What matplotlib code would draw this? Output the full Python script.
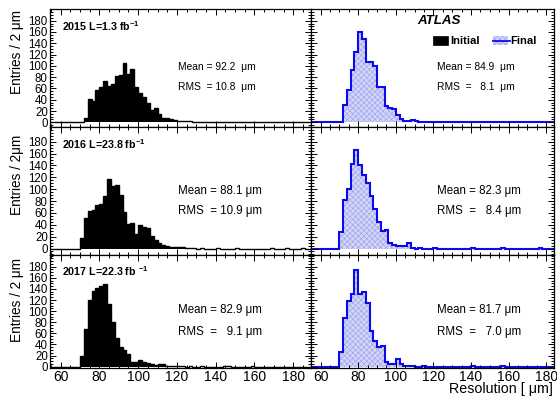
import numpy as np
import matplotlib
matplotlib.use('Agg')
import matplotlib.pyplot as plt
from matplotlib.patches import Rectangle
from matplotlib.lines import Line2D
from matplotlib.ticker import MultipleLocator

plt.rcParams['font.family'] = ['Liberation Sans', 'DejaVu Sans']
plt.rcParams['mathtext.fontset'] = 'custom'
plt.rcParams['mathtext.rm'] = 'Liberation Sans'
plt.rcParams['mathtext.bf'] = 'Liberation Sans:bold'
plt.rcParams['mathtext.it'] = 'Liberation Sans:italic'
plt.rcParams['hatch.linewidth'] = 0.3

# ---------------- data ----------------
BIN_WIDTH = 2
AXIS_EDGE = 54          # first histogram edge (axis start)
COUNTS_START = 60       # edge of first entry in the count lists
LAST_EDGE = 192

years = ['2015', '2016', '2017']
lumi_labels = ['2015 L=1.3 fb$^{\\mathbf{-1}}$',
               '2016 L=23.8 fb$^{\\mathbf{-1}}$',
               '2017 L=22.3 fb $^{\\mathbf{-1}}$']

# Initial (black) histograms, counts per 2 um bin from 60 um
initial_2015 = [0, 0, 0, 0, 0, 0, 8, 42, 38, 58, 63, 74, 65, 67, 82, 84, 105, 86, 95, 62,
                52, 44, 35, 22, 26, 15, 8, 7, 5, 4, 3, 3, 2, 2, 1, 1, 1, 0, 1, 0,
                0, 0, 0, 1, 0, 1, 0, 0, 1, 0, 0, 0, 1]
initial_2016 = [0, 0, 0, 0, 0, 17, 51, 64, 65, 73, 75, 89, 117, 106, 107, 91, 61, 41, 43, 25,
                39, 37, 34, 21, 14, 9, 6, 5, 3, 3, 2, 2, 1, 1, 1, 0, 1, 0, 0, 0,
                1, 0, 0, 0, 0, 1, 0, 0, 0, 0, 0, 0, 0, 0, 1, 0, 0, 0, 1, 0, 0, 0, 1]
initial_2017 = [0, 0, 0, 0, 0, 19, 67, 120, 136, 141, 146, 148, 113, 80, 51, 36, 30, 22, 9, 8,
                12, 8, 7, 4, 3, 4, 4, 2, 1, 2, 1, 1, 0, 1, 0, 0, 1, 0, 0, 0,
                0, 0, 1, 1, 0, 0, 0, 0, 0, 1]

# Final (blue) histograms, counts per 2 um bin from 60 um
final_2015 = [0, 0, 0, 1, 0, 0, 30, 58, 93, 125, 160, 147, 106, 106, 100, 62, 62, 28, 25, 24,
              13, 6, 2, 2, 4, 2, 1, 1, 0, 1, 0, 0, 0, 1, 0, 0, 0, 0, 0, 0,
              1, 0, 0, 0, 0, 1, 0, 0, 0, 0, 1]
final_2016 = [0, 0, 0, 0, 0, 28, 82, 100, 143, 166, 141, 124, 110, 88, 66, 44, 30, 32, 10, 6,
              4, 5, 5, 10, 1, 0, 1, 0, 0, 0, 1, 0, 0, 0, 0, 0, 0, 0, 0, 0,
              1, 0, 0, 0, 0, 0, 0, 0, 1, 0, 0, 0, 0, 0, 0, 0, 0, 0, 1]
final_2017 = [0, 0, 0, 0, 0, 26, 88, 119, 130, 174, 130, 134, 115, 65, 47, 35, 38, 9, 4, 4,
              13, 5, 2, 1, 1, 0, 0, 1, 0, 0, 0, 0, 0, 0, 0, 0, 0, 0, 0, 0,
              1, 0, 0, 0, 0, 0, 0, 0, 1]

initial_series = [initial_2015, initial_2016, initial_2017]
final_series = [final_2015, final_2016, final_2017]

initial_stats = [('Mean = 92.2  \u03bcm', 'RMS  = 10.8  \u03bcm'),
                 ('Mean = 88.1 \u03bcm', 'RMS  = 10.9 \u03bcm'),
                 ('Mean = 82.9 \u03bcm', 'RMS  =   9.1 \u03bcm')]
final_stats = [('Mean = 84.9  \u03bcm', 'RMS  =   8.1  \u03bcm'),
               ('Mean = 82.3 \u03bcm', 'RMS  =   8.4 \u03bcm'),
               ('Mean = 81.7 \u03bcm', 'RMS  =   7.0 \u03bcm')]
ylabels = ['Entries / 2 \u03bcm', 'Entries / 2\u03bcm', 'Entries / 2 \u03bcm']
xlabel = 'Resolution [ \u03bcm]'
y_ticks = [0, 20, 40, 60, 80, 100, 120, 140, 160, 180]
x_ticks = [60, 80, 100, 120, 140, 160, 180]

edges = np.arange(AXIS_EDGE, LAST_EDGE + 1, BIN_WIDTH)
nbins = len(edges) - 1


def full_counts(lst):
    arr = np.zeros(nbins)
    start = (COUNTS_START - AXIS_EDGE) // BIN_WIDTH
    vals = np.asarray(lst, dtype=float)[: nbins - start]
    arr[start:start + len(vals)] = vals
    return arr


# ---------------- layout (pixels) ----------------
W, H = 557, 401
fig = plt.figure(figsize=(W / 100, H / 100), dpi=100)


def fx(x):
    return x / W


def fy(y):
    return 1 - y / H


rows = [(9.3, 126.7), (126.7, 254.5), (254.5, 367.5)]
cols = [(49.5, 310.7), (310.7, 554.0)]
ylims = [(-7.8, 200.2), (-10.1, 205.4), (-1.5, 202.0)]
xlims = [(54.3, 189.0), (54.7, 184.2)]

BLUE = '#0a0af0'
HATCH_FACE = '#d2d5f7'
HATCH_EDGE = '#878eec'

mean_y = [(67, 87), (191, 211.5), (310.5, 331.5)]
mean_x = [178.3, 437.0]
stat_size = [7.4, 8.3, 8.3]
year_y = [26, 144, 271]

for r in range(3):
    y0, y1 = rows[r]
    for c in range(2):
        x0, x1 = cols[c]
        ax = fig.add_axes([fx(x0), fy(y1), fx(x1) - fx(x0), (y1 - y0) / H])
        counts = full_counts(initial_series[r] if c == 0 else final_series[r])
        if c == 0:
            ax.stairs(counts, edges, fill=True, color='black', linewidth=0)
            ax.stairs(counts, edges, color='black', linewidth=1.0)
        else:
            ax.stairs(counts, edges, fill=True, facecolor=HATCH_FACE,
                      edgecolor=HATCH_EDGE, hatch='xxxxxx', linewidth=0)
            ax.stairs(counts, edges, color=BLUE, linewidth=1.5)
        ax.set_xlim(*xlims[c])
        ax.set_ylim(*ylims[r])
        ax.set_yticks(y_ticks)
        ax.yaxis.set_minor_locator(MultipleLocator(5))
        ax.set_xticks(x_ticks)
        ax.xaxis.set_minor_locator(MultipleLocator(5))
        for s in ax.spines.values():
            s.set_linewidth(0.9)
        ax.tick_params(axis='both', which='both', direction='in',
                       top=True, right=True, width=0.7)
        ax.tick_params(axis='y', which='major', length=4.5, labelsize=8.3, pad=1.2)
        ax.tick_params(axis='y', which='minor', length=2.3)
        ax.tick_params(axis='x', which='major', length=4.5, labelsize=10.0, pad=1.5)
        ax.tick_params(axis='x', which='minor', length=2.3)
        ax.tick_params(labelleft=(c == 0), labelbottom=(r == 2))

        sx = mean_x[c]
        stats = initial_stats[r] if c == 0 else final_stats[r]
        fig.text(fx(sx), fy(mean_y[r][0]), stats[0], fontsize=stat_size[r],
                 ha='left', va='center')
        fig.text(fx(sx), fy(mean_y[r][1]), stats[1], fontsize=stat_size[r],
                 ha='left', va='center')

    fig.text(fx(62), fy(year_y[r]), lumi_labels[r], fontsize=7.7,
             fontweight='bold', ha='left', va='center')

ylabel_top = [10, 135, 258]
for r in range(3):
    fig.text(fx(16.7), fy(ylabel_top[r]), ylabels[r], rotation=90, fontsize=9.8,
             ha='center', va='top')

fig.text(fx(553), fy(389.5), xlabel, fontsize=10.3, ha='right', va='center')

# ATLAS label and legend
fig.text(fx(439), fy(21.3), 'ATLAS', fontsize=9.6, fontweight='bold',
         fontstyle='italic', ha='center', va='center')
fig.add_artist(Rectangle((fx(433.3), fy(45)), fx(448.3) - fx(433.3), (45 - 36) / H,
                         transform=fig.transFigure, facecolor='black',
                         edgecolor='black', linewidth=0.5))
fig.text(fx(450.7), fy(40.8), 'Initial', fontsize=8.1, fontweight='bold',
         ha='left', va='center')
fig.add_artist(Rectangle((fx(493.3), fy(45)), fx(508.3) - fx(493.3), (45 - 36) / H,
                         transform=fig.transFigure, facecolor=HATCH_FACE,
                         edgecolor=HATCH_EDGE, hatch='xxxxxx', linewidth=0))
fig.add_artist(Line2D([fx(492.7), fx(510)], [fy(40.5), fy(40.5)],
                      transform=fig.transFigure, color=BLUE, linewidth=1.3))
fig.text(fx(510.5), fy(40.8), 'Final', fontsize=8.1, fontweight='bold',
         ha='left', va='center')

fig.savefig('out.png', dpi=100)
